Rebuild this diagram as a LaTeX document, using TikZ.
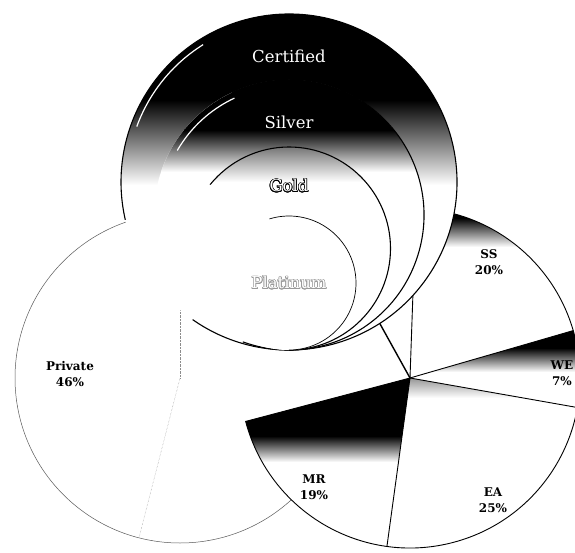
\documentclass[tikz,border=0pt]{standalone}
\usepackage{fontspec}
\setmainfont{DejaVu Serif}
\usepackage{contour}
\contourlength{0.6pt}
\tikzset{
  rim/.style={line width=1.1pt},
  cut/.style={line width=0.9pt},
  faint/.style={black!45, line width=0.4pt, densely dotted},
  gleam/.style={white, line width=1.2pt},
  share/.style={font=\fontsize{12}{16}\selectfont\bfseries, align=center},
  tier/.style={font=\fontsize{16.5}{19}\selectfont}
}
\begin{document}
\begin{tikzpicture}[x=1pt,y=1pt]
\useasboundingbox (0,0) rectangle (575,552);
% centres
\coordinate (priv) at (180,174);
\coordinate (pub) at (410,174);
\coordinate (certified) at (289,370);
\coordinate (silver) at (289,337);
\coordinate (gold) at (289,303.5);
\coordinate (platinum) at (289,269);

% private pie
\fill[white] (priv) circle (165pt);
\draw[black!65, line width=0.5pt] (priv) circle (165pt);
\draw[faint] (priv) -- ++(90:165pt);
\draw[faint] (priv) -- ++(255.6:165pt);

% public pie
\fill[white] (pub) circle (170pt);
\begin{scope}
  \clip (pub) -- ++(16.2:170pt) arc (16.2:88:170pt) -- cycle;
  \shade[top color=black, bottom color=white] (400,305) rectangle (580,334);
  \fill[black] (400,334) rectangle (580,350);
\end{scope}
\begin{scope}
  \clip (pub) -- ++(-10:170pt) arc (-10:16.2:170pt) -- cycle;
  \shade[top color=black, bottom color=white] (400,180) rectangle (580,204);
  \fill[black] (400,204) rectangle (580,230);
\end{scope}
\begin{scope}
  \clip (pub) -- ++(262.2:170pt) arc (262.2:350:170pt) -- cycle;
  \shade[top color=black!45, bottom color=white] (380,154) rectangle (580,176);
\end{scope}
\begin{scope}
  \clip (pub) -- ++(194.8:170pt) arc (194.8:262.2:170pt) -- cycle;
  \shade[top color=black, bottom color=white] (230,90) rectangle (420,116);
  \fill[black] (230,116) rectangle (420,180);
\end{scope}
\draw[cut] (pub) -- ++(194.8:170pt) arc (194.8:448:170pt) -- cycle;
\draw[cut] (pub) -- ++(262.2:170pt);
\draw[cut] (pub) -- ++(350:170pt);
\draw[cut] (pub) -- ++(16.2:170pt);
\draw[line width=1.4pt] (pub) -- ++(119:170pt);

% tiers
\begin{scope}
  \clip (certified) circle (168pt);
  \fill[white] (certified) circle (168pt);
  \shade[top color=black, bottom color=white] (100,367) rectangle (470,452);
  \fill[black] (100,452) rectangle (470,545);
\end{scope}
\draw[rim] (certified) ++(235:168pt) arc (235:553:168pt);
\draw[gleam] (certified) ++(122:162pt) arc (122:160:162pt);

\begin{scope}
  \clip (silver) circle (135pt);
  \fill[white] (silver) circle (135pt);
  \shade[top color=black, bottom color=white] (150,380) rectangle (430,422);
  \fill[black] (150,422) rectangle (430,475);
\end{scope}
\draw[rim] (silver) ++(250:135pt) arc (250:475:135pt);
\draw[gleam] (silver) ++(115:129pt) arc (115:150:129pt);

\begin{scope}
  \clip (gold) circle (101.5pt);
  \fill[white] (gold) circle (101.5pt);
  \shade[top color=black!55, bottom color=white] (180,370) rectangle (400,406);
\end{scope}
\draw[rim] (gold) ++(-90:101.5pt) arc (-90:141:101.5pt);

\fill[white] (platinum) circle (67pt);
\draw[line width=0.7pt] (platinum) ++(-90:67pt) arc (-90:107:67pt);

% labels
\node[tier, text=white] (certified-label) at (289,496) {Certified};
\node[tier, text=white] (silver-label) at (289,430) {Silver};
\node[tier] (gold-label) at (289,366) {\contour{black}{\textcolor{white}{Gold}}};
\node[tier] (platinum-label) at (289,269) {\contour{black!40}{\textcolor{white}{Platinum}}};
\node[share] (private-label) at (70,178) {Private\\46\%};
\node[share] (ss-label) at (489,290) {SS\\20\%};
\node[share] (we-label) at (562,179) {WE\\7\%};
\node[share] (mr-label) at (314,65) {MR\\19\%};
\node[share] (ea-label) at (493,52) {EA\\25\%};
\end{tikzpicture}
\end{document}
